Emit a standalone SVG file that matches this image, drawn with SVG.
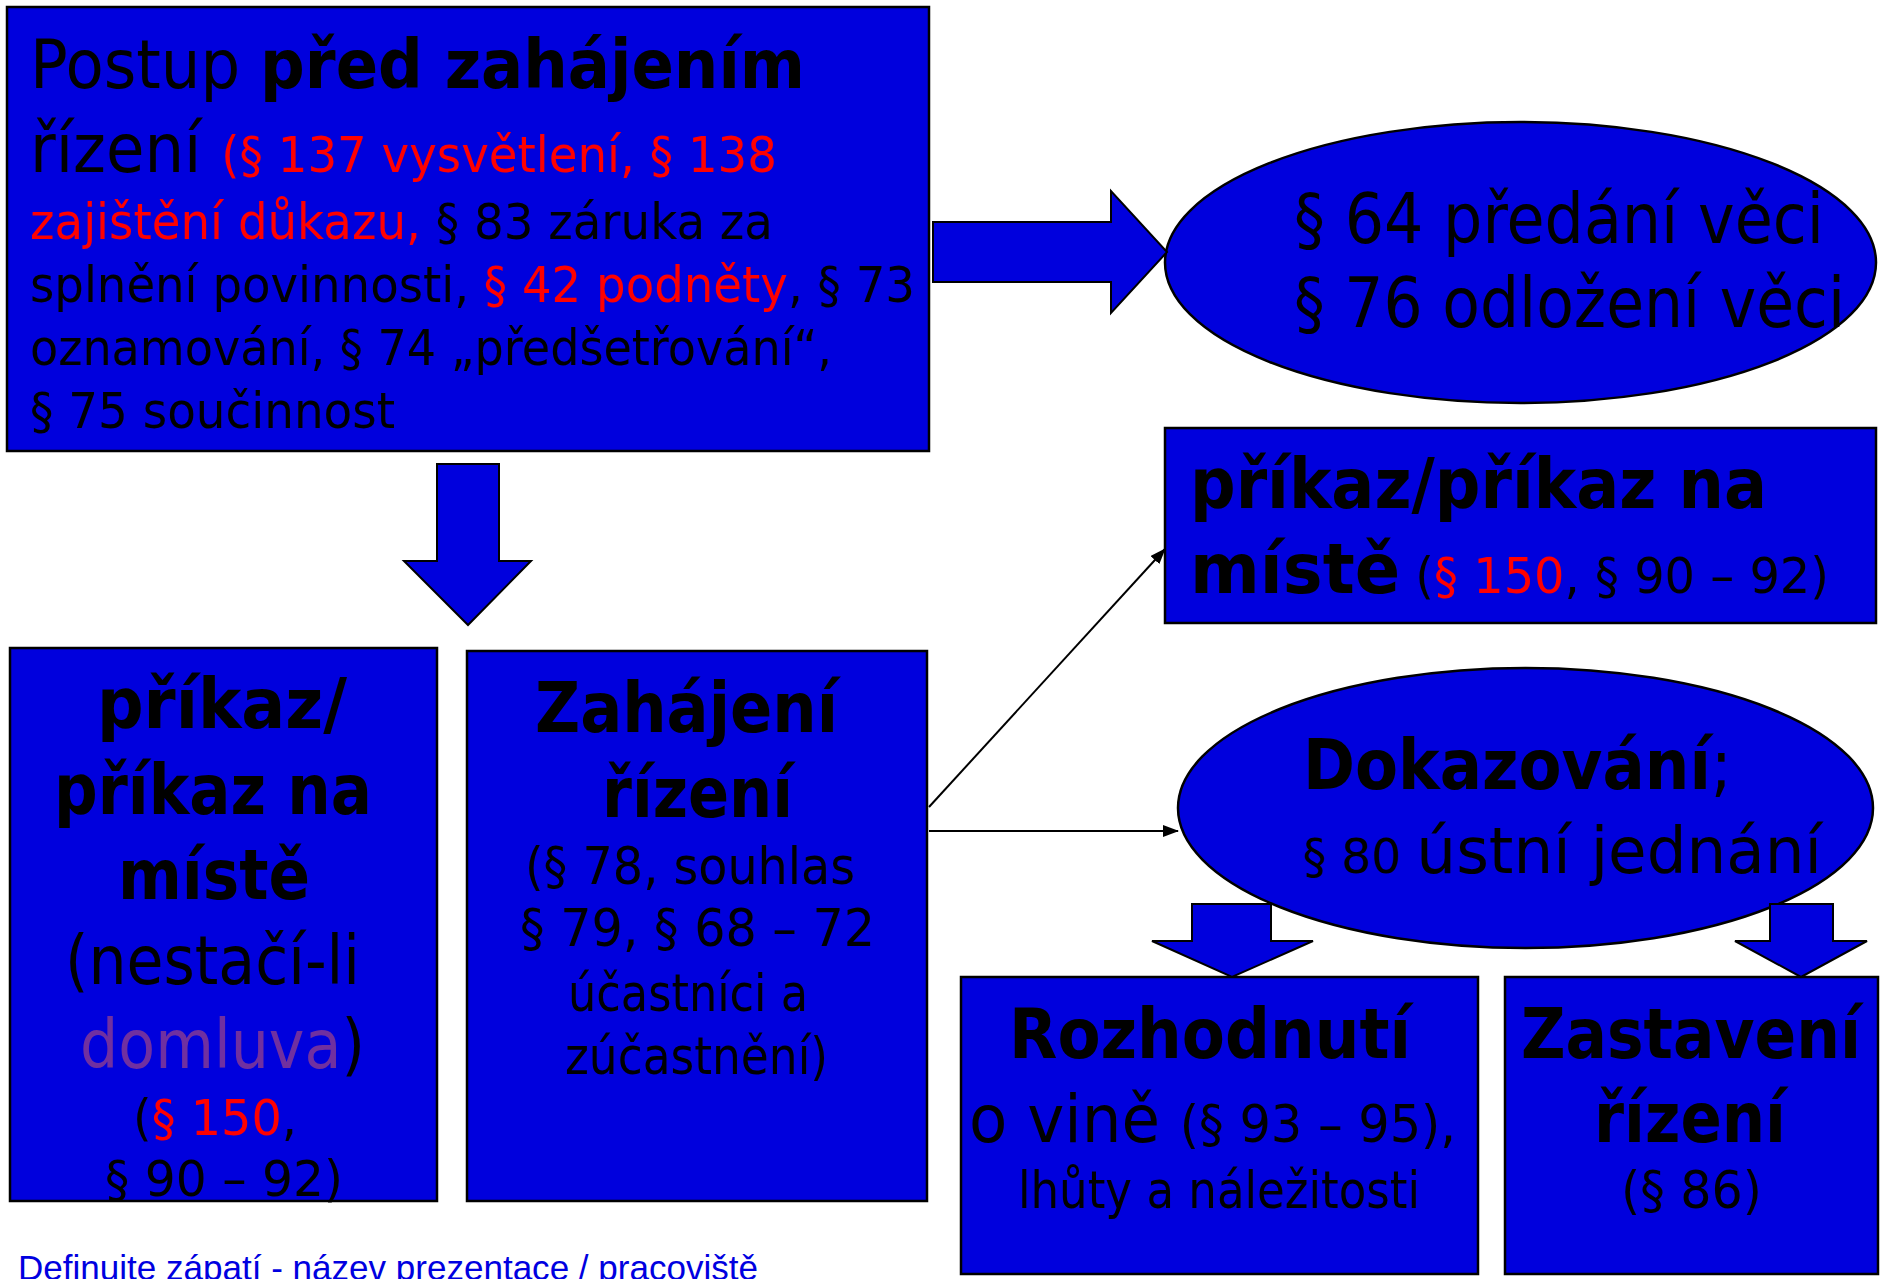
<svg xmlns="http://www.w3.org/2000/svg" width="1881" height="1279" viewBox="0 0 1881 1279">
<style>
.box{fill:#0000DD;stroke:#000;stroke-width:2.5}
.blk{fill:#0000DD;stroke:#000;stroke-width:2}
text{font-family:"DejaVu Sans",Verdana,sans-serif;fill:#000}
.b{font-weight:bold}
.r{fill:#FF0000}
.p{fill:#7030A0}
.line{stroke:#000;stroke-width:2;fill:none}
.foot{font-family:"Liberation Sans",Arial,sans-serif;fill:#0000E0;font-size:35px}
</style>
<defs>
<marker id="ah" markerWidth="16" markerHeight="12" refX="15" refY="6" orient="auto" markerUnits="userSpaceOnUse">
<path d="M0,0 L16,6 L0,12 z" fill="#000"/>
</marker>
</defs>
<rect width="1881" height="1279" fill="#fff"/>

<g id="node-pred">
<rect class="box" x="7" y="7" width="922" height="444"/>
<text x="30" y="88" font-size="67" textLength="775" lengthAdjust="spacingAndGlyphs">Postup <tspan class="b">před zahájením</tspan></text>
<text x="30" y="172" font-size="67" textLength="747" lengthAdjust="spacingAndGlyphs">řízení <tspan class="r" font-size="50">(§ 137 vysvětlení, § 138</tspan></text>
<text x="30" y="239" font-size="50" textLength="743" lengthAdjust="spacingAndGlyphs"><tspan class="r">zajištění důkazu,</tspan> § 83 záruka za</text>
<text x="30" y="302" font-size="50" textLength="885" lengthAdjust="spacingAndGlyphs">splnění povinnosti, <tspan class="r">§ 42 podněty</tspan>, § 73</text>
<text x="30" y="365" font-size="50" textLength="802" lengthAdjust="spacingAndGlyphs">oznamování, § 74 „předšetřování“,</text>
<text x="30" y="428" font-size="50" textLength="365" lengthAdjust="spacingAndGlyphs">§ 75 součinnost</text>
</g>

<g id="node-predani">
<ellipse class="box" cx="1520.5" cy="262.5" rx="355.5" ry="140.5"/>
<text x="1294" y="243" font-size="69" textLength="530" lengthAdjust="spacingAndGlyphs">§ 64 předání věci</text>
<text x="1294" y="327" font-size="69" textLength="551" lengthAdjust="spacingAndGlyphs">§ 76 odložení věci</text>
</g>

<g id="node-prikaz-right">
<rect class="box" x="1165" y="428" width="711" height="195"/>
<text x="1190" y="508" font-size="70" class="b" textLength="577" lengthAdjust="spacingAndGlyphs">příkaz/příkaz na</text>
<text x="1190" y="593" font-size="50" textLength="639" lengthAdjust="spacingAndGlyphs"><tspan class="b" font-size="70">místě</tspan> (<tspan class="r">§ 150</tspan>, § 90 – 92)</text>
</g>

<g id="node-prikaz-left">
<rect class="box" x="10" y="648" width="427" height="553"/>
<text x="97" y="728" font-size="70" class="b" textLength="250" lengthAdjust="spacingAndGlyphs">příkaz/</text>
<text x="54" y="814" font-size="70" class="b" textLength="318" lengthAdjust="spacingAndGlyphs">příkaz na</text>
<text x="118" y="899" font-size="70" class="b" textLength="192" lengthAdjust="spacingAndGlyphs">místě</text>
<text x="65" y="984" font-size="68" textLength="295" lengthAdjust="spacingAndGlyphs">(nestačí-li</text>
<text x="80" y="1068" font-size="68" textLength="285" lengthAdjust="spacingAndGlyphs"><tspan class="p">domluva</tspan>)</text>
<text x="133" y="1135" font-size="50" textLength="164" lengthAdjust="spacingAndGlyphs">(<tspan class="r">§ 150</tspan>,</text>
<text x="105" y="1196" font-size="50" textLength="238" lengthAdjust="spacingAndGlyphs">§ 90 – 92)</text>
</g>

<g id="node-zahajeni">
<rect class="box" x="467" y="651" width="460" height="550"/>
<text x="535" y="732" font-size="70" class="b" textLength="303" lengthAdjust="spacingAndGlyphs">Zahájení</text>
<text x="602" y="817" font-size="70" class="b" textLength="191" lengthAdjust="spacingAndGlyphs">řízení</text>
<text x="525" y="884" font-size="52" textLength="330" lengthAdjust="spacingAndGlyphs">(§ 78, souhlas</text>
<text x="520" y="946" font-size="52" textLength="355" lengthAdjust="spacingAndGlyphs">§ 79, § 68 – 72</text>
<text x="568" y="1011" font-size="52" textLength="240" lengthAdjust="spacingAndGlyphs">účastníci a</text>
<text x="565" y="1074" font-size="52" textLength="263" lengthAdjust="spacingAndGlyphs">zúčastnění)</text>
</g>

<g id="node-dokazovani">
<ellipse class="box" cx="1525.5" cy="808" rx="347.5" ry="140"/>
<text x="1303" y="789" font-size="70" textLength="429" lengthAdjust="spacingAndGlyphs"><tspan class="b">Dokazování</tspan>;</text>
<text x="1303" y="873" font-size="64" textLength="519" lengthAdjust="spacingAndGlyphs"><tspan font-size="48">§ 80 </tspan>ústní jednání</text>
</g>

<g id="node-rozhodnuti">
<rect class="box" x="961" y="977" width="517" height="297"/>
<text x="1009" y="1058" font-size="70" class="b" textLength="402" lengthAdjust="spacingAndGlyphs">Rozhodnutí</text>
<text x="969" y="1142" font-size="66" textLength="487" lengthAdjust="spacingAndGlyphs">o vině <tspan font-size="52">(§ 93 – 95),</tspan></text>
<text x="1018" y="1208" font-size="52" textLength="402" lengthAdjust="spacingAndGlyphs">lhůty a náležitosti</text>
</g>

<g id="node-zastaveni">
<rect class="box" x="1505" y="977" width="373" height="297"/>
<text x="1521" y="1058" font-size="70" class="b" textLength="340" lengthAdjust="spacingAndGlyphs">Zastavení</text>
<text x="1594" y="1142" font-size="70" class="b" textLength="192" lengthAdjust="spacingAndGlyphs">řízení</text>
<text x="1621" y="1208" font-size="52" textLength="141" lengthAdjust="spacingAndGlyphs">(§ 86)</text>
</g>

<g id="connectors">
<polygon class="blk" points="933,222 1111,222 1111,191 1167,252 1111,313 1111,282 933,282"/>
<polygon class="blk" points="437,464 499,464 499,561 531,561 468,625 404,561 437,561"/>
<polygon class="blk" points="1192,904 1271,904 1271,941 1313,941 1232,977 1152,941 1192,941"/>
<polygon class="blk" points="1770,904 1833,904 1833,941 1867,941 1801,977 1735,941 1770,941"/>
<line class="line" x1="929" y1="807" x2="1165" y2="549" marker-end="url(#ah)"/>
<line class="line" x1="929" y1="831" x2="1178" y2="831" marker-end="url(#ah)"/>
</g>

<text class="foot" x="18" y="1280" textLength="740" lengthAdjust="spacingAndGlyphs">Definujte zápatí - název prezentace / pracoviště</text>
</svg>
